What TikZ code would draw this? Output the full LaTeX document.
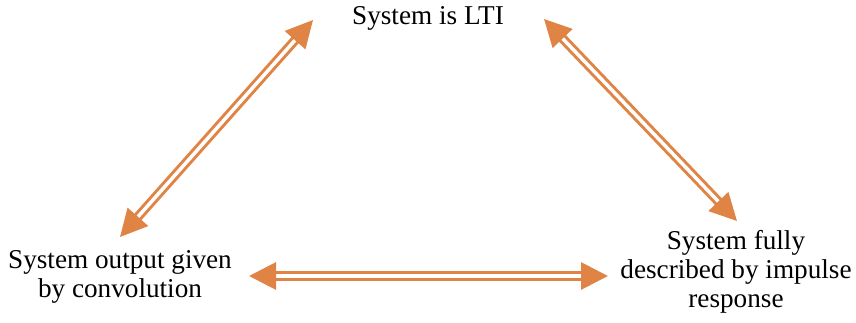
\documentclass[tikz,border=0pt]{standalone}
\usepackage{fontspec}
\setmainfont{Liberation Serif}
\usetikzlibrary{arrows.meta}
\definecolor{arrorange}{HTML}{E08446}
\tikzset{
  label/.style={align=center, inner sep=0pt, font=\fontsize{27.2}{29}\selectfont},
  link/.style={draw=arrorange, line width=3pt, double=white, double distance=3.5pt,
    {Triangle[length=27pt,width=27pt]}-{Triangle[length=27pt,width=27pt]}}
}
\begin{document}
\begin{tikzpicture}[x=1pt,y=-1pt]
  \useasboundingbox (0,0) rectangle (856,322);
  \node[label] (lti) at (428,18) {System is LTI};
  \node[label] (conv) at (120,277) {System output given\\by convolution};
  \node[label] (imp) at (736,272) {System fully\\described by impulse\\response};
  % arrow end points
  \coordinate (a1) at (120,237);
  \coordinate (a2) at (313,20);
  \coordinate (b1) at (544,19);
  \coordinate (b2) at (737,221);
  \coordinate (c1) at (249,276);
  \coordinate (c2) at (608,276);
  \draw[link] (a1) -- (a2);
  \draw[link] (b1) -- (b2);
  \draw[link] (c1) -- (c2);
\end{tikzpicture}
\end{document}
